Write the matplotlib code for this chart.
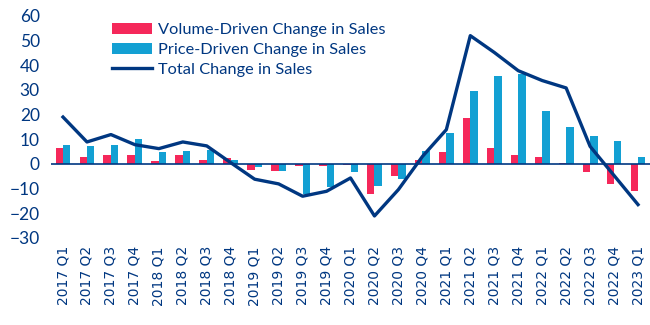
import matplotlib
matplotlib.use("Agg")
import matplotlib.pyplot as plt
import numpy as np

quarters = [
    "2017 Q1", "2017 Q2", "2017 Q3", "2017 Q4",
    "2018 Q1", "2018 Q2", "2018 Q3", "2018 Q4",
    "2019 Q1", "2019 Q2", "2019 Q3", "2019 Q4",
    "2020 Q1", "2020 Q2", "2020 Q3", "2020 Q4",
    "2021 Q1", "2021 Q2", "2021 Q3", "2021 Q4",
    "2022 Q1", "2022 Q2", "2022 Q3", "2022 Q4",
    "2023 Q1",
]
volume_driven = [6.3, 3.0, 3.8, 3.8, 1.3, 3.8, 1.7, 2.4,
                 -2.6, -3.0, -1.0, -1.0, -0.5, -12.0, -5.0, 1.7,
                 5.0, 18.8, 6.6, 3.8, 3.0, 0.5, -3.4, -8.0, -11.1]
price_driven = [7.8, 7.4, 7.8, 9.9, 5.0, 5.4, 5.8, 1.7,
                -1.4, -3.0, -12.0, -9.5, -3.4, -9.1, -6.0, 5.4,
                12.7, 29.7, 35.8, 36.6, 21.6, 15.1, 11.5, 9.4, 3.0]
total_change = [19.0, 8.9, 11.9, 7.8, 6.2, 8.9, 7.3, 0.5,
                -6.2, -8.1, -13.1, -11.1, -5.7, -21.1, -10.4, 3.0,
                13.9, 52.0, 45.2, 37.8, 33.8, 30.8, 7.1, -4.7, -16.5]

RED = "#F5285A"
CYAN = "#13A0D3"
NAVY = "#003781"

plt.rcParams["font.family"] = ["Lato", "DejaVu Sans"]

fig = plt.figure(figsize=(6.5, 3.25), dpi=100)
ax = fig.add_axes([0.0785, 0.268, 0.9215, 0.683])

x = np.arange(len(quarters))
w = 0.31
b1 = ax.bar(x - w / 2, volume_driven, width=w, color=RED,
            label="Volume-Driven Change in Sales", zorder=2)
b2 = ax.bar(x + w / 2, price_driven, width=w, color=CYAN,
            label="Price-Driven Change in Sales", zorder=2)
ln, = ax.plot(x, total_change, color=NAVY, linewidth=2.4,
              label="Total Change in Sales", zorder=3)
ax.axhline(0, color=NAVY, linewidth=1.2, zorder=2.5)

ax.set_xlim(-0.5, len(quarters) - 0.5)
ax.set_ylim(-30, 60)
ax.set_yticks(range(-30, 61, 10))
ax.set_xticks(x)
ax.set_xticklabels(quarters, rotation=90, fontsize=10, color=NAVY,
                   family="DejaVu Sans")
ax.tick_params(axis="both", length=0, colors=NAVY)
ax.tick_params(axis="y", labelsize=12.5, pad=8)
ax.tick_params(axis="x", pad=6)
for s in ax.spines.values():
    s.set_visible(False)

leg = ax.legend(handles=[b1, b2, ln], loc="upper left",
                bbox_to_anchor=(0.077, 1.035),
                frameon=False, fontsize=11.8, handlelength=2.45,
                handleheight=0.7, handletextpad=0.35, labelspacing=0.33,
                labelcolor=NAVY)

fig.savefig("out.png", dpi=100)
